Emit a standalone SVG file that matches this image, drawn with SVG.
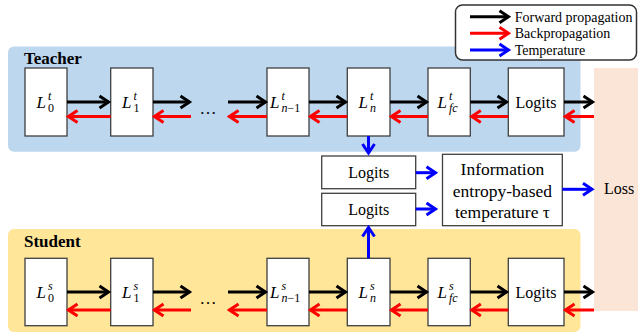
<svg xmlns="http://www.w3.org/2000/svg" width="638" height="333" viewBox="0 0 638 333">
<defs>
<marker id="hk" markerUnits="userSpaceOnUse" markerWidth="14" markerHeight="16" viewBox="-11 -8 14 16" refX="0" refY="0" orient="auto"><path d="M-9,-6 L0,0 L-9,6" fill="none" stroke="#000" stroke-width="3"/></marker>
<marker id="hr" markerUnits="userSpaceOnUse" markerWidth="14" markerHeight="16" viewBox="-11 -8 14 16" refX="0" refY="0" orient="auto"><path d="M-9,-6 L0,0 L-9,6" fill="none" stroke="#f00" stroke-width="3"/></marker>
<marker id="hb" markerUnits="userSpaceOnUse" markerWidth="14" markerHeight="16" viewBox="-11 -8 14 16" refX="0" refY="0" orient="auto"><path d="M-9,-6 L0,0 L-9,6" fill="none" stroke="#00f" stroke-width="3"/></marker>
</defs>
<style>
text{font-family:"Liberation Serif","Times New Roman","DejaVu Serif",serif;fill:#000}
.box{fill:#fff;stroke:#3f3f3f;stroke-width:1.3}
.lab{font-size:16px;text-anchor:middle}
.L{font-style:italic;font-size:17px}
.s{font-size:12px}
.i{font-style:italic}
.k{stroke:#000;stroke-width:3;fill:none;marker-end:url(#hk)}
.r{stroke:#f00;stroke-width:3;fill:none;marker-end:url(#hr)}
.b{stroke:#00f;stroke-width:3;fill:none;marker-end:url(#hb)}
.ttl{font-weight:bold;font-size:17px}
</style>
<g id="panels">
<rect x="8" y="46.5" width="572.5" height="105.2" rx="6" fill="#bdd7ee"/>
<rect x="8" y="229" width="572.5" height="103" rx="6" fill="#ffe699"/>
<rect x="594" y="68" width="44" height="243" fill="#fbe5d6"/>
<text class="ttl" x="24" y="64">Teacher</text>
<text class="ttl" x="24" y="247">Student</text>
<text x="619" y="194" font-size="16" text-anchor="middle">Loss</text>
</g>
<g id="teacher-L0"><rect class="box" x="25" y="68" width="42" height="68"/><text class="L" x="36.5" y="108">L</text><text class="s i" x="48" y="100">t</text><text class="s" x="48" y="112">0</text></g>
<g id="teacher-L1"><rect class="box" x="110.7" y="68" width="42.3" height="68"/><text class="L" x="122" y="108">L</text><text class="s i" x="133.5" y="100">t</text><text class="s" x="133.5" y="112">1</text></g>
<g id="teacher-Ln-1"><rect class="box" x="267" y="68" width="42" height="68"/><text class="L" x="270" y="108">L</text><text class="s i" x="281.5" y="100">t</text><text class="s" x="281.5" y="112"><tspan class="i">n</tspan>−1</text></g>
<g id="teacher-Ln"><rect class="box" x="347.3" y="68" width="42.7" height="68"/><text class="L" x="358.5" y="108">L</text><text class="s i" x="370" y="100">t</text><text class="s i" x="370" y="112">n</text></g>
<g id="teacher-Lfc"><rect class="box" x="428" y="68" width="42.3" height="68"/><text class="L" x="437.5" y="108">L</text><text class="s i" x="449" y="100">t</text><text class="s i" x="449" y="112">fc</text></g>
<g id="teacher-logits"><rect class="box" x="508.3" y="68" width="55.7" height="68"/><text class="lab" x="536" y="108">Logits</text></g>
<text x="208" y="114" font-size="17" text-anchor="middle">…</text>

<g id="student-L0"><rect class="box" x="25" y="258.3" width="42" height="67.4"/><text class="L" x="36.5" y="298">L</text><text class="s i" x="48" y="290">s</text><text class="s" x="48" y="302">0</text></g>
<g id="student-L1"><rect class="box" x="110.7" y="258.3" width="42.3" height="67.4"/><text class="L" x="122" y="298">L</text><text class="s i" x="133.5" y="290">s</text><text class="s" x="133.5" y="302">1</text></g>
<g id="student-Ln-1"><rect class="box" x="267" y="258.3" width="42" height="67.4"/><text class="L" x="270" y="298">L</text><text class="s i" x="281.5" y="290">s</text><text class="s" x="281.5" y="302"><tspan class="i">n</tspan>−1</text></g>
<g id="student-Ln"><rect class="box" x="347.3" y="258.3" width="42.7" height="67.4"/><text class="L" x="358.5" y="298">L</text><text class="s i" x="370" y="290">s</text><text class="s i" x="370" y="302">n</text></g>
<g id="student-Lfc"><rect class="box" x="428" y="258.3" width="42.3" height="67.4"/><text class="L" x="437.5" y="298">L</text><text class="s i" x="449" y="290">s</text><text class="s i" x="449" y="302">fc</text></g>
<g id="student-logits"><rect class="box" x="508.3" y="258.3" width="55.7" height="67.4"/><text class="lab" x="536" y="298">Logits</text></g>
<text x="208" y="304" font-size="17" text-anchor="middle">…</text>

<g id="mid-logits-t"><rect class="box" x="321.7" y="156" width="94" height="32.7"/><text class="lab" x="368.7" y="178">Logits</text></g>
<g id="mid-logits-s"><rect class="box" x="321.7" y="193.3" width="94" height="32.4"/><text class="lab" x="368.7" y="215">Logits</text></g>
<g id="temperature"><rect class="box" x="442.5" y="154.3" width="119.8" height="71.4"/>
<text x="502.4" y="175" font-size="17.5" text-anchor="middle">Information</text>
<text x="502.4" y="196.5" font-size="17.5" text-anchor="middle">entropy-based</text>
<text x="502.4" y="218" font-size="17.5" text-anchor="middle">temperature τ</text></g>

<g id="connectors">
<path class="k" d="M67,102H108.5"/><path class="k" d="M153,102H189.5"/><path class="k" d="M228,102H265.5"/><path class="k" d="M309,102H345.5"/><path class="k" d="M390,102H426.5"/><path class="k" d="M470.3,102H506.5"/><path class="k" d="M564,102H592.5"/>
<path class="r" d="M110.7,116.5H68.5"/><path class="r" d="M191,116.5H154.5"/><path class="r" d="M267,116.5H229.5"/><path class="r" d="M347.3,116.5H310.5"/><path class="r" d="M428,116.5H391.5"/><path class="r" d="M508.3,116.5H471.8"/><path class="r" d="M594,116.5H565.5"/>
<path class="k" d="M67,292H108.5"/><path class="k" d="M153,292H189.5"/><path class="k" d="M228,292H265.5"/><path class="k" d="M309,292H345.5"/><path class="k" d="M390,292H426.5"/><path class="k" d="M470.3,292H506.5"/><path class="k" d="M564,292H592.5"/>
<path class="r" d="M110.7,310H68.5"/><path class="r" d="M191,310H154.5"/><path class="r" d="M267,310H229.5"/><path class="r" d="M347.3,310H310.5"/><path class="r" d="M428,310H391.5"/><path class="r" d="M508.3,310H471.8"/><path class="r" d="M594,310H565.5"/>
<path class="b" d="M368.5,136V153"/>
<path class="b" d="M368.5,258.3V227.5"/>
<path class="b" d="M415.7,172.7H435.5"/>
<path class="b" d="M415.7,209H435.5"/>
<path class="b" d="M562.3,189.3H592"/>
</g>

<g id="legend">
<rect x="455.5" y="5" width="181" height="55" rx="7" fill="#fff" stroke="#333" stroke-width="1.5"/>
<path class="k" d="M470,16.7H508.5"/>
<path class="r" d="M470,33.3H508.5"/>
<path class="b" d="M470,50H508.5"/>
<text x="514.7" y="21.5" font-size="14">Forward propagation</text>
<text x="514.7" y="38" font-size="14">Backpropagation</text>
<text x="514.7" y="54.7" font-size="14">Temperature</text>
</g>
</svg>
